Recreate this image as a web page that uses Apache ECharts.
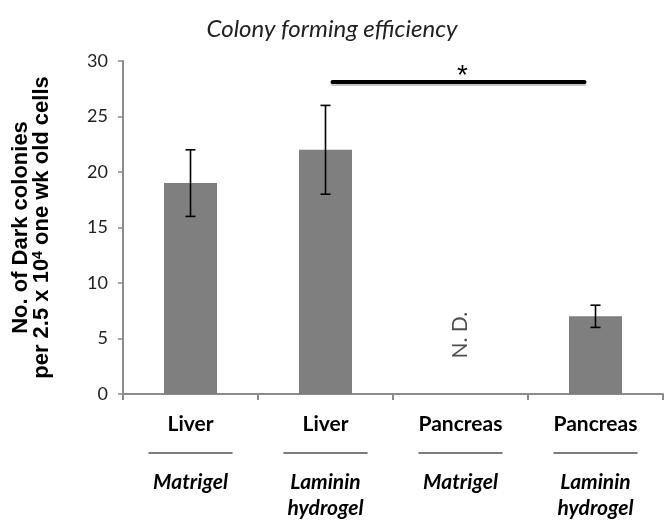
<!DOCTYPE html>
<html>
<head>
<meta charset="utf-8">
<title>Colony forming efficiency</title>
<style>
html, body { margin: 0; padding: 0; background: #fff; }
#container { width: 666px; height: 524px; }
</style>
</head>
<body>
<div id="container"></div>
<script src="https://cdn.jsdelivr.net/npm/echarts@6/dist/echarts.min.js"></script>
<script type="text/javascript">
// data
var tissues = ['Liver', 'Liver', 'Pancreas', 'Pancreas'];
var matrices = ['Matrigel', 'Laminin\nhydrogel', 'Matrigel', 'Laminin\nhydrogel'];
var colonies = [19, 22, null, 7];
var errLow = [16, 18, null, 6];
var errHigh = [22, 26, null, 8];
var ndIndex = 2;        // "N. D." group
var ndValue = 5.3;
var sigBar = [1, 3, 28.1];   // from group, to group, height
var yTicks = [0, 30, 5];     // min, max, step

var categories = tissues.map(function (t, i) { return t + '/' + matrices[i]; });

var errData = [];
for (var i = 0; i < colonies.length; i++) {
  if (colonies[i] !== null) errData.push([i, errLow[i], errHigh[i]]);
}

var myChart = echarts.init(document.getElementById('container'));

option = {
  animation: false,
  backgroundColor: '#fff',
  title: {
    text: 'Colony forming efficiency',
    left: 327,
    top: 12,
    textAlign: 'center',
    textStyle: {
      fontFamily: 'Lato',
      fontStyle: 'italic',
      fontWeight: 'normal',
      fontSize: 24,
      color: '#222'
    }
  },
  grid: { left: 123, right: 3, top: 61, bottom: 130, containLabel: false },
  xAxis: {
    type: 'category',
    data: categories,
    axisLine: { lineStyle: { color: '#8c8c8c', width: 2 } },
    axisTick: { show: true, length: 6, lineStyle: { color: '#8c8c8c', width: 2 } },
    axisLabel: {
      margin: 17,
      interval: 0,
      color: '#000',
      formatter: function (v, idx) {
        var lines = matrices[idx].split('\n').map(function (s) { return '{m|' + s + '}'; });
        return '{t|' + tissues[idx] + '}\n{hr|}\n' + lines.join('\n');
      },
      rich: {
        t: { fontFamily: 'Lato', fontWeight: 'bold', fontSize: 21, lineHeight: 26, color: '#000' },
        hr: { width: 84, height: 0, borderColor: '#000', borderWidth: 0.6, lineHeight: 32 },
        m: { fontFamily: 'Lato', fontWeight: 'bold', fontStyle: 'italic', fontSize: 21, lineHeight: 26, color: '#000' }
      }
    }
  },
  yAxis: {
    type: 'value',
    min: yTicks[0],
    max: yTicks[1],
    interval: yTicks[2],
    splitLine: { show: false },
    axisLine: { show: true, lineStyle: { color: '#8c8c8c', width: 2 } },
    axisTick: { show: true, length: 5, lineStyle: { color: '#8c8c8c', width: 1.5 } },
    axisLabel: { margin: 15, fontFamily: 'Lato', fontSize: 18, color: '#222' },
    name: '{n|No. of Dark colonies}\n{n|per 2.5 x 10}{sup|4}{n| one wk old cells}',
    nameLocation: 'middle',
    nameGap: 71,
    nameTextStyle: {
      rich: {
        n: { fontFamily: 'Liberation Sans', fontWeight: 'bold', fontSize: 22, lineHeight: 21, color: '#000' },
        sup: { fontFamily: 'Liberation Sans', fontWeight: 'bold', fontSize: 14, lineHeight: 13, verticalAlign: 'top', color: '#000' }
      }
    }
  },
  series: [
    {
      name: 'colonies',
      type: 'bar',
      data: colonies,
      barWidth: 53,
      itemStyle: { color: '#7f7f7f' }
    },
    {
      name: 'error',
      type: 'custom',
      data: errData,
      z: 5,
      renderItem: function (params, api) {
        var lo = api.coord([api.value(0), api.value(1)]);
        var hi = api.coord([api.value(0), api.value(2)]);
        var cap = 5;
        var style = { stroke: '#000', lineWidth: 1.6 };
        return {
          type: 'group',
          children: [
            { type: 'line', shape: { x1: lo[0], y1: lo[1], x2: hi[0], y2: hi[1] }, style: style },
            { type: 'line', shape: { x1: lo[0] - cap, y1: lo[1], x2: lo[0] + cap, y2: lo[1] }, style: style },
            { type: 'line', shape: { x1: hi[0] - cap, y1: hi[1], x2: hi[0] + cap, y2: hi[1] }, style: style }
          ]
        };
      }
    },
    {
      name: 'nd',
      type: 'scatter',
      symbolSize: 0,
      data: [[ndIndex, ndValue]],
      label: {
        show: true,
        position: 'inside',
        formatter: 'N. D.',
        rotate: 90,
        fontFamily: 'Lato',
        fontSize: 21,
        color: '#222'
      }
    },
    {
      name: 'significance',
      type: 'custom',
      data: [sigBar],
      z: 6,
      renderItem: function (params, api) {
        var a = api.coord([api.value(0), api.value(2)]);
        var b = api.coord([api.value(1), api.value(2)]);
        var x1 = a[0] + 7, x2 = b[0] - 11;
        return {
          type: 'group',
          children: [
            { type: 'line', shape: { x1: x1, y1: a[1] + 2, x2: x2, y2: a[1] + 2 },
              style: { stroke: '#c8c8c8', lineWidth: 4, lineCap: 'round' } },
            { type: 'line', shape: { x1: x1, y1: a[1], x2: x2, y2: a[1] },
              style: { stroke: '#000', lineWidth: 4, lineCap: 'round' } },
            { type: 'text', x: (x1 + x2) / 2 + 4, y: a[1] + 8,
              style: { text: '*', fontFamily: 'Liberation Sans', fontSize: 28, fill: '#000',
                       align: 'center', verticalAlign: 'bottom' } }
          ]
        };
      }
    }
  ]
};

if (option && typeof option === "object") {
  myChart.setOption(option, true);
}
</script>
</body>
</html>
